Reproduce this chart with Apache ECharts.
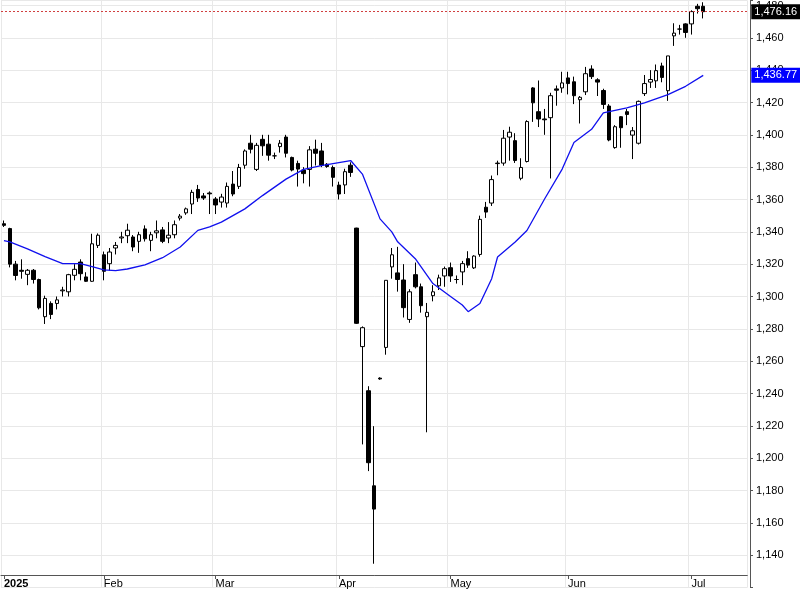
<!DOCTYPE html>
<html><head><meta charset="utf-8">
<script src="https://cdn.jsdelivr.net/npm/echarts@6/dist/echarts.min.js"></script>
<style>html,body{margin:0;padding:0;background:#fff}#c{width:800px;height:589px}</style>
</head><body><div id="c"></div>
<script>
// [open, close, low, high]
const candles = [
[1345,1344,1343,1347],[1342,1320,1318,1342.5],[1320,1313,1310,1322],[1316.2,1315.6,1311,1323],[1313.7,1316.2,1307,1317],
[1316.2,1310.5,1308,1317],[1310.5,1293,1292,1311],[1287.5,1298.8,1283,1300.5],[1295.7,1288.9,1286,1297],[1295.7,1297.9,1292,1300],
[1303.5,1304,1300,1306],[1302.9,1313.5,1300,1314],[1313.1,1316.8,1310,1320],[1321.3,1314.1,1310,1323],[1312.1,1309.4,1309,1315],
[1309.4,1332.6,1309,1338.8],[1331.6,1337.9,1330,1339],[1325.8,1315.6,1310,1327.8],[1320.3,1327.5,1316,1330],[1330,1331.6,1326,1333.7],
[1336.2,1336.8,1333,1340],[1337.6,1341,1333,1345],[1336.8,1330.6,1328,1338],[1334.1,1338.2,1327,1340],[1341.8,1335.7,1334,1344],
[1334.7,1338.2,1328,1340],[1339.4,1340.6,1336,1347],[1341.2,1334.1,1333,1343],[1336.2,1337.9,1333,1346],[1338.2,1344.4,1336,1347],
[1348.5,1349.7,1347,1351],[1351.7,1354.2,1350.5,1355],[1357.2,1364.4,1351,1366],[1366.2,1360.9,1358.5,1369],[1362.2,1360.9,1359.7,1364],
[1364,1363.5,1351,1365],[1360.3,1356.6,1351,1361.5],[1358.4,1361.5,1355,1363.5],[1357.8,1368.1,1355,1370.5],[1369.5,1363.4,1362,1377.6],
[1368.1,1379.8,1366.5,1382],[1381.2,1390,1379,1391],[1394.8,1391.1,1388.5,1400],[1378.6,1393.5,1377.6,1395],[1397.2,1393.2,1387,1400],
[1394.2,1387.4,1384,1400],[1387,1387,1385,1389],[1392.7,1394.8,1389,1396.8],[1398.6,1388.6,1386,1400],[1386,1378.2,1377.4,1386.5],
[1382.3,1378.8,1368,1384],[1378.2,1376,1370,1380],[1378.6,1390.7,1368,1393],[1391.1,1388.6,1381,1397],[1390,1381.2,1380,1395],
[1381.8,1380.4,1379.6,1382.5],[1379.8,1373.7,1368,1381],[1368.9,1363.4,1360,1371],[1369,1377.2,1363.4,1379],[1381.2,1376.7,1374,1383],
[1342.3,1283.4,1283,1342.5],[1269,1280.7,1208.5,1281.5],[1241.7,1197.2,1192,1244.5],[1182.9,1168.5,1134.7,1219.8],[1249.5,1249,1248.5,1250],
[1268.5,1310,1264,1310],[1318.3,1325.8,1311,1330],[1314.6,1310.5,1303,1330.7],[1310.2,1293.1,1287,1320],[1285.8,1302.9,1283.7,1304.5],
[1313.5,1306,1305,1321],[1306,1294.3,1290,1308],[1287.5,1290.2,1216,1296],[1300.5,1302.9,1297,1307],[1306.6,1311.5,1304,1313.5],
[1312.7,1317.2,1306,1318.5],[1317.8,1312.7,1309,1321],[1310.5,1310.5,1308,1313],[1315.2,1320.3,1307,1322],[1323.4,1319.4,1317.7,1328],
[1317.7,1325,1317,1325.5],[1326,1347.7,1324.6,1350],[1355.2,1352.2,1348.6,1358.5],[1357.8,1372.3,1356,1374.8],[1382.2,1382.5,1375,1384],
[1382.5,1397.9,1380.9,1403],[1398.6,1401.6,1384,1405],[1396.4,1384.1,1382.6,1401],[1373.1,1379.8,1371.9,1385.5],[1383.5,1408.2,1382.9,1409],
[1429,1419.8,1408,1429.5],[1414.3,1409.8,1404.8,1433.6],[1409.8,1409.3,1400,1416],[1410.6,1424.2,1373,1426],[1428.4,1427.6,1418,1430.5],
[1429,1432.1,1426,1439],[1435.2,1431.7,1425,1439],[1432.8,1424.2,1419,1436],[1421.7,1423.2,1407,1424],[1426.6,1437.8,1424.6,1442],
[1440.7,1436,1434.5,1443],[1434,1432.6,1424,1435],[1427.4,1418.8,1416,1428.5],[1417.8,1396.8,1396,1419],[1392.1,1405,1391.4,1406],
[1411.2,1404.4,1392,1411.6],[1414.3,1412.6,1406,1416],[1399.8,1402.5,1385,1404.8],[1394.8,1420.7,1394,1421.2],[1425.5,1431.7,1424,1437],
[1432.6,1434.2,1429,1440],[1433.4,1439.7,1429,1443.5],[1442.6,1435.5,1432.5,1444.6],[1427.3,1448.8,1421,1448.8],[1461.2,1462.9,1455,1469],
[1465.4,1465.4,1462,1468],[1468.6,1463.3,1460,1469],[1468.6,1476.2,1462,1477],[1479.5,1478,1475,1481],[1479.5,1476.16,1472,1482]
];
// moving average readings: [candle index, value]
const maPoints = [[0,1334.5],[1,1333.8],[4,1329.5],[7,1324.6],[10,1320.3],[13,1320.3],[15,1318.5],[17,1316.5],[19,1316],[21,1317],
[24,1319.5],[27,1324],[30,1330.6],[33,1340.9],[35,1343],[37,1346],[41,1354.2],[44,1362.4],[48,1372.6],[51,1378.6],[54,1381],
[59,1384.1],[61,1375.7],[64,1348],[66,1340],[67,1333.8],[70,1323.4],[73,1308],[76,1300],[78,1294.7],[79,1290.6],[81,1295.7],
[83,1311],[84,1324.4],[87,1333.7],[89,1340.8],[92,1360.3],[95,1378.8],[97,1395.2],[100,1403.4],[102,1413.6],[106,1416.7],
[109,1419.8],[113,1424.9],[116,1430],[119,1436.77]];
const monthLabels = {0:'2025',17:'Feb',36:'Mar',57:'Apr',76:'May',96:'Jun',117:'Jul'};
const lastClose = 1476.16, lastMA = 1436.77;
const extraSlots = 7;

const N = candles.length + extraSlots;
const cats = [];
for (let i=0;i<N;i++) cats.push(monthLabels[i] || ' '+i);
const isMonth = (i)=> monthLabels[i] !== undefined;
const ma = new Array(candles.length).fill(null);
maPoints.forEach(p=>{ma[p[0]]=p[1];});

const chart = echarts.init(document.getElementById('c'), null, {renderer:'canvas'});
const font = 'Liberation Sans, Arial, sans-serif';
chart.setOption({
  animation:false,
  backgroundColor:'#fff',
  grid:{left:1, right:52.7, top:0, bottom:-1.5},
  xAxis:{type:'category', data:cats, boundaryGap:true, offset:-12.5,
    axisLine:{show:true, lineStyle:{color:'#555'}},
    axisTick:{show:true, alignWithLabel:true, interval:(i)=>isMonth(i), length:4, lineStyle:{color:'#555'}},
    axisLabel:{interval:(i)=>isMonth(i), align:'left', margin:3, fontSize:11, fontFamily:font, color:'#000',
      formatter:(v)=> v.startsWith(' ') ? '' : (v==='2025' ? '{b|2025}' : v),
      rich:{b:{fontWeight:'bold', fontSize:11, fontFamily:font, color:'#000'}}},
    splitLine:{show:true, interval:(i)=>isMonth(i), lineStyle:{color:'#e8e8e8'}}
  },
  yAxis:{type:'value', position:'right', min:1120, max:1483.1, interval:20, offset:2.7,
    axisLine:{show:true, lineStyle:{color:'#555'}},
    axisTick:{show:true, length:3, lineStyle:{color:'#555'}},
    axisLabel:{fontSize:11, fontFamily:font, color:'#000', margin:6,
      formatter:(v)=> (v<1140||v>1480||v%20!==0)?'':v.toLocaleString('en-US')},
    splitLine:{show:true, lineStyle:{color:'#e8e8e8'}}
  },
  series:[
    {type:'candlestick', data:candles.map(c=>c), barWidth:4,
      itemStyle:{color:'#ffffff', color0:'#000000', borderColor:'#000000', borderColor0:'#000000', borderWidth:1},
      markLine:{silent:true, symbol:['none','none'], data:[{yAxis:lastClose}],
        lineStyle:{color:'#d04040', type:[2,2], width:1},
        label:{position:'end', distance:4, formatter:'1,476.16', backgroundColor:'#000', color:'#fff',
          padding:[2,3], fontSize:11, fontFamily:font}}
    },
    {type:'line', data:ma, connectNulls:true, symbol:'none', lineStyle:{color:'#1010ee', width:1.3},
      markLine:{silent:true, symbol:['none','none'], data:[{yAxis:lastMA}],
        lineStyle:{color:'rgba(0,0,0,0)', width:0},
        label:{show:true, position:'end', distance:4, formatter:'1,436.77', backgroundColor:'#0000ff', color:'#fff',
          padding:[2,3], fontSize:11, fontFamily:font}}
    }
  ]
});
</script></body></html>
